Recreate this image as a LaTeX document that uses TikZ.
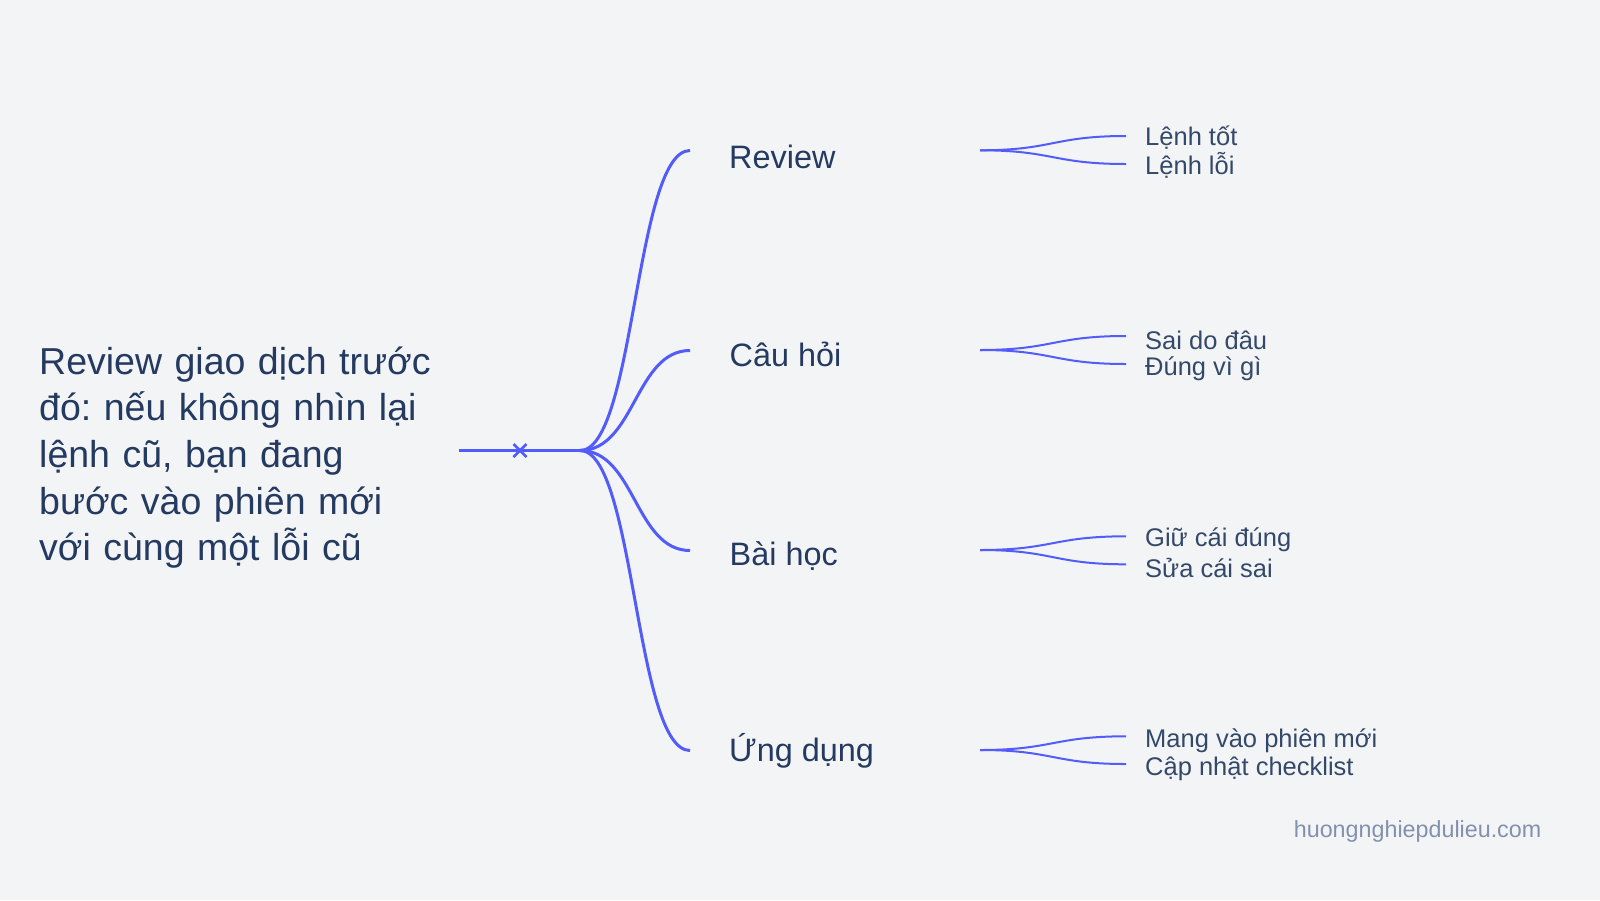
\documentclass[tikz,border=0pt]{standalone}
\usepackage{fontspec}
\setmainfont{Liberation Sans}
\frenchspacing
\definecolor{bg}{HTML}{F3F4F6}
\definecolor{linkc}{RGB}{82,92,250}
\definecolor{ink}{HTML}{243A60}
\definecolor{inktwo}{HTML}{34496A}
\definecolor{markc}{HTML}{8391AE}
\tikzset{
  rootlink/.style={draw=linkc, line width=3.5pt},
  lonelink/.style={draw=linkc, line width=3pt},
  ltwolink/.style={draw=linkc, line width=2pt},
  roottext/.style={anchor=base west, inner sep=0pt, text=ink, font=\fontsize{37.5}{46.7}\selectfont, text width=450pt, align=left},
  lonetext/.style={anchor=base west, inner sep=0pt, text=ink, font=\fontsize{32.4}{38}\selectfont},
  ltwotext/.style={anchor=base west, inner sep=0pt, text=inktwo, font=\fontsize{25.5}{30}\selectfont},
  wmtext/.style={anchor=base east, inner sep=0pt, text=markc, font=\fontsize{23.3}{28}\selectfont}
}
\begin{document}
\begin{tikzpicture}[x=1pt,y=-1pt]
\fill[bg] (0,0) rectangle (1600,900);
\useasboundingbox (0,0) rectangle (1600,900);

% root text
\node[roottext] (root) at (39,374) {Review giao dịch trước\\đó: nếu không nhìn lại\\lệnh cũ, bạn đang\\bước vào phiên mới\\với cùng một lỗi cũ};

% coordinates
\coordinate (r0) at (459,450.5);
\coordinate (cx) at (520,450.5);
\coordinate (j) at (580,450.5);
\coordinate (a1) at (690,150.5);
\coordinate (a2) at (690,350.5);
\coordinate (a3) at (690,550.5);
\coordinate (a4) at (690,750.5);
\coordinate (b1) at (980,150.3);
\coordinate (b2) at (980,350);
\coordinate (b3) at (980,550);
\coordinate (b4) at (980,750);
\coordinate (c11) at (1126,136);
\coordinate (c12) at (1126,164);
\coordinate (c21) at (1126,336);
\coordinate (c22) at (1126,364);
\coordinate (c31) at (1126,536.3);
\coordinate (c32) at (1126,564.3);
\coordinate (c41) at (1126,736.3);
\coordinate (c42) at (1126,764);

% root line and marker
\draw[rootlink] (r0) -- (j);
\draw[linkc, line width=2.8pt] ([xshift=-6.5pt,yshift=-6.5pt]cx) -- ([xshift=6.5pt,yshift=6.5pt]cx);
\draw[linkc, line width=2.8pt] ([xshift=-6.5pt,yshift=6.5pt]cx) -- ([xshift=6.5pt,yshift=-6.5pt]cx);

% level-1 links
\foreach \t in {a1,a2,a3,a4}{
  \draw[lonelink] (j) .. controls ([xshift=55pt]j) and ([xshift=-55pt]\t) .. (\t);
}

% level-2 links
\foreach \s/\t in {b1/c11,b1/c12,b2/c21,b2/c22,b3/c31,b3/c32,b4/c41,b4/c42}{
  \draw[ltwolink] (\s) .. controls ([xshift=73pt]\s) and ([xshift=-73pt]\t) .. (\t);
}

% level-1 labels
\node[lonetext] (n1) at (729,168.3) {Review};
\node[lonetext] (n2) at (729.5,366) {Câu hỏi};
\node[lonetext] (n3) at (729.5,565) {Bài học};
\node[lonetext] (n4) at (729,761.7) {Ứng dụng};

% level-2 labels
\node[ltwotext] (m11) at (1145,145.5) {Lệnh tốt};
\node[ltwotext] (m12) at (1145,174.5) {Lệnh lỗi};
\node[ltwotext] (m21) at (1145,349) {Sai do đâu};
\node[ltwotext] (m22) at (1145,375) {Đúng vì gì};
\node[ltwotext] (m31) at (1145,546.7) {Giữ cái đúng};
\node[ltwotext] (m32) at (1145,577.7) {Sửa cái sai};
\node[ltwotext] (m41) at (1145,747.7) {Mang vào phiên mới};
\node[ltwotext] (m42) at (1145,775) {Cập nhật checklist};

% watermark
\node[wmtext] (wm) at (1541.5,837) {huongnghiepdulieu.com};
\end{tikzpicture}
\end{document}
